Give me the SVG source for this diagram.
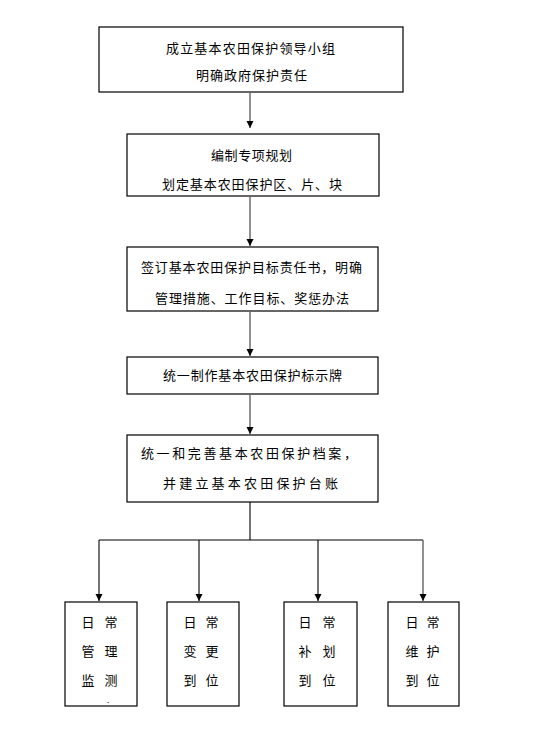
<svg xmlns="http://www.w3.org/2000/svg" width="542" height="742" viewBox="0 0 542 742">
<style>
.box{fill:#fff;stroke:#000;stroke-width:1.2}
.t{font-family:"Noto Sans CJK SC","Noto Sans",sans-serif;font-size:13px;fill:#000}
.c{fill:none;stroke:#000;stroke-width:1.1}
.g{fill:none;stroke:#555;stroke-width:1.3}
</style>
<defs>
<marker id="ah" markerUnits="userSpaceOnUse" markerWidth="8" markerHeight="8" refX="7" refY="4" orient="auto">
<path d="M0,0.5 L7,4 L0,7.5 Z" fill="#000"/>
</marker>
</defs>
<rect width="542" height="742" fill="#fff"/>
<g id="connectors">
<path class="g" d="M250,93 V128" marker-end="url(#ah)"/>
<path class="g" d="M250,197 V246" marker-end="url(#ah)"/>
<path class="g" d="M250,312 V356" marker-end="url(#ah)"/>
<path class="g" d="M250,395 V434" marker-end="url(#ah)"/>
<path class="c" d="M250,502 V540"/>
<path class="c" d="M99,540 H423"/>
<path class="c" d="M99,540 V601" marker-end="url(#ah)"/>
<path class="c" d="M199,540 V601" marker-end="url(#ah)"/>
<path class="c" d="M318,540 V601" marker-end="url(#ah)"/>
<path class="g" d="M423,540 V601" marker-end="url(#ah)"/>
</g>
<g id="n1">
<rect class="box" x="99" y="27" width="304" height="65"/>
<text class="t" x="166" y="53" textLength="169" lengthAdjust="spacing">成立基本农田保护领导小组</text>
<text class="t" x="196" y="80" textLength="111" lengthAdjust="spacing">明确政府保护责任</text>
</g>
<g id="n2">
<rect class="box" x="127" y="134" width="252" height="62"/>
<text class="t" x="211" y="160" textLength="81" lengthAdjust="spacing">编制专项规划</text>
<text class="t" x="162" y="189" textLength="180" lengthAdjust="spacing">划定基本农田保护区、片、块</text>
</g>
<g id="n3">
<rect class="box" x="127" y="247" width="251" height="64"/>
<text class="t" x="141" y="272" textLength="221" lengthAdjust="spacing">签订基本农田保护目标责任书，明确</text>
<text class="t" x="155" y="303" textLength="194" lengthAdjust="spacing">管理措施、工作目标、奖惩办法</text>
</g>
<g id="n4">
<rect class="box" x="127" y="357" width="251" height="37"/>
<text class="t" x="163" y="380" textLength="179" lengthAdjust="spacing">统一制作基本农田保护标示牌</text>
</g>
<g id="n5">
<rect class="box" x="127" y="435" width="251" height="67"/>
<text class="t" x="141" y="458" textLength="216" lengthAdjust="spacing">统一和完善基本农田保护档案，</text>
<text class="t" x="163" y="488" textLength="175" lengthAdjust="spacing">并建立基本农田保护台账</text>
</g>
<g id="n6">
<rect class="box" x="65" y="602" width="72" height="104"/>
<text class="t" text-anchor="middle" x="88" y="627">日</text><text class="t" text-anchor="middle" x="111" y="627">常</text>
<text class="t" text-anchor="middle" x="88" y="656">管</text><text class="t" text-anchor="middle" x="111" y="656">理</text>
<text class="t" text-anchor="middle" x="88" y="685">监</text><text class="t" text-anchor="middle" x="111" y="685">测</text>
<text class="t" text-anchor="middle" x="108" y="703" style="font-size:8px">.</text>
</g>
<g id="n7">
<rect class="box" x="167" y="602" width="72" height="104"/>
<text class="t" text-anchor="middle" x="190" y="627">日</text><text class="t" text-anchor="middle" x="212" y="627">常</text>
<text class="t" text-anchor="middle" x="190" y="656">变</text><text class="t" text-anchor="middle" x="212" y="656">更</text>
<text class="t" text-anchor="middle" x="190" y="685">到</text><text class="t" text-anchor="middle" x="212" y="685">位</text>
</g>
<g id="n8">
<rect class="box" x="284" y="602" width="73" height="104"/>
<text class="t" text-anchor="middle" x="305" y="627">日</text><text class="t" text-anchor="middle" x="329" y="627">常</text>
<text class="t" text-anchor="middle" x="305" y="656">补</text><text class="t" text-anchor="middle" x="329" y="656">划</text>
<text class="t" text-anchor="middle" x="305" y="685">到</text><text class="t" text-anchor="middle" x="329" y="685">位</text>
</g>
<g id="n9">
<rect class="box" x="388" y="602" width="71" height="104"/>
<text class="t" text-anchor="middle" x="412" y="627">日</text><text class="t" text-anchor="middle" x="433" y="627">常</text>
<text class="t" text-anchor="middle" x="412" y="656">维</text><text class="t" text-anchor="middle" x="433" y="656">护</text>
<text class="t" text-anchor="middle" x="412" y="685">到</text><text class="t" text-anchor="middle" x="433" y="685">位</text>
</g>
</svg>
